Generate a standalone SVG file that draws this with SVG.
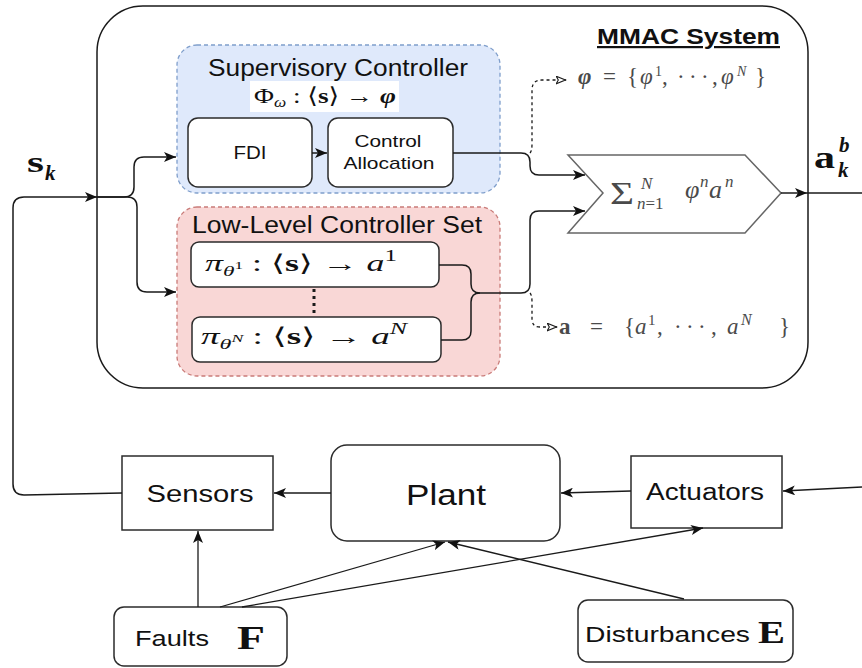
<svg xmlns="http://www.w3.org/2000/svg" width="862" height="668" viewBox="0 0 862 668">
<defs>
<style>
.ln{fill:none;stroke:#1a1a1a;stroke-width:1.5}
.lb{fill:none;stroke:#1a1a1a;stroke-width:1.3}
.dash{fill:none;stroke:#1a1a1a;stroke-width:1.3;stroke-dasharray:3,3}
.box{fill:#fff;stroke:#2b2b2b;stroke-width:1.5}
.sans{font-family:"Liberation Sans",Arial,sans-serif;fill:#111}
.m{font-family:"Liberation Serif","DejaVu Serif",serif;fill:#111}
.g{fill:#4a4a4a}
.it{font-style:italic}
.bd{font-weight:bold}
</style>
<marker id="arr" viewBox="0 0 12 10" refX="12" refY="5" markerWidth="12" markerHeight="10" markerUnits="userSpaceOnUse" orient="auto">
<path d="M0,0 L12,5 L0,10 L3,5 Z" fill="#111"/>
</marker>
<marker id="open" viewBox="0 0 11 9" refX="10.5" refY="4.5" markerWidth="11" markerHeight="9" markerUnits="userSpaceOnUse" orient="auto">
<path d="M0.7,0.7 L10,4.5 L0.7,8.3 L2.8,4.5 Z" fill="#fff" stroke="#1a1a1a" stroke-width="1.1"/>
</marker>
</defs>
<rect width="862" height="668" fill="#fff"/>

<!-- outer system frame -->
<g id="mmac-system">
<rect x="97" y="6" width="711" height="382" rx="46" fill="#fff" stroke="#1a1a1a" stroke-width="1.5"/>
<text class="sans bd" x="780" y="44" font-size="22" text-anchor="end" textLength="183" lengthAdjust="spacingAndGlyphs" text-decoration="underline">MMAC System</text>
</g>

<!-- supervisory layer -->
<g id="supervisory-controller">
<rect x="177" y="45" width="323" height="148" rx="20" fill="#dfe9fb" stroke="#7f9ecb" stroke-width="1.3" stroke-dasharray="4,3"/>
<text class="sans" x="338" y="76" font-size="23" text-anchor="middle" textLength="260" lengthAdjust="spacingAndGlyphs">Supervisory Controller</text>
<rect x="250" y="81" width="149" height="31" fill="#fff"/>
<text class="m" x="254" y="103" font-size="22" textLength="142" lengthAdjust="spacingAndGlyphs">Φ<tspan class="it" font-size="14" dy="4">ω</tspan><tspan dy="-4"> : ⟨</tspan><tspan class="bd">s</tspan>⟩ → <tspan class="bd it">φ</tspan></text>
</g>
<g id="fdi">
<rect class="box" x="188" y="118" width="124" height="69" rx="10"/>
<text class="sans" x="250" y="159" font-size="18" text-anchor="middle" textLength="33" lengthAdjust="spacingAndGlyphs">FDI</text>
</g>
<g id="control-allocation">
<rect class="box" x="328" y="118" width="125" height="69" rx="10"/>
<text class="sans" x="388" y="147" font-size="17" text-anchor="middle" textLength="67" lengthAdjust="spacingAndGlyphs">Control</text>
<text class="sans" x="389" y="169" font-size="17" text-anchor="middle" textLength="91" lengthAdjust="spacingAndGlyphs">Allocation</text>
</g>

<!-- low-level policies -->
<g id="low-level-controller-set">
<rect x="177" y="207" width="323" height="169" rx="20" fill="#f9d7d6" stroke="#c97b78" stroke-width="1.3" stroke-dasharray="4,3"/>
<text class="sans" x="337" y="233" font-size="23" text-anchor="middle" textLength="290" lengthAdjust="spacingAndGlyphs">Low-Level Controller Set</text>
<line x1="314" y1="289" x2="314" y2="316" stroke="#1a1a1a" stroke-width="3" stroke-dasharray="3,4"/>
</g>
<g id="policy-1">
<rect class="box" x="191" y="242" width="248" height="45" rx="8"/>
<text class="m" x="205" y="271" font-size="23" textLength="192" lengthAdjust="spacingAndGlyphs"><tspan class="it">π</tspan><tspan class="it" font-size="15" dy="5">θ</tspan><tspan font-size="11" dy="-7">1</tspan><tspan dy="2"> : ⟨</tspan><tspan class="bd">s</tspan>⟩ → <tspan class="it">a</tspan><tspan font-size="16" dy="-10">1</tspan></text>
</g>
<g id="policy-n">
<rect class="box" x="192" y="317" width="249" height="45" rx="8"/>
<text class="m" x="201" y="344" font-size="23" textLength="206" lengthAdjust="spacingAndGlyphs"><tspan class="it">π</tspan><tspan class="it" font-size="15" dy="5">θ</tspan><tspan class="it" font-size="11" dy="-7">N</tspan><tspan dy="2"> : ⟨</tspan><tspan class="bd">s</tspan>⟩ → <tspan class="it">a</tspan><tspan class="it" font-size="16" dy="-10">N</tspan></text>
</g>

<!-- weighted sum -->
<g id="weighted-sum">
<polygon points="568,155 745,155 781,193 745,233 568,233 603,193" fill="#fff" stroke="#666" stroke-width="1.5"/>
<text class="m g" x="610" y="204" font-size="32" textLength="24" lengthAdjust="spacingAndGlyphs">Σ</text>
<text class="m g it" x="641" y="189" font-size="17">N</text>
<text class="m g" x="637" y="209" font-size="17"><tspan class="it">n</tspan>=1</text>
<text class="m g it" x="685" y="198" font-size="26">φ</text>
<text class="m g it" x="700" y="187" font-size="17">n</text>
<text class="m g it" x="709" y="198" font-size="26">a</text>
<text class="m g it" x="725" y="187" font-size="17">n</text>
</g>

<!-- output sets -->
<g id="weights-label">
<text class="m g" y="84" font-size="23">
<tspan x="578" class="bd it">φ</tspan>
<tspan x="603">=</tspan>
<tspan x="627">{</tspan>
<tspan x="640" class="it">φ</tspan>
<tspan x="655" y="76" font-size="14">1</tspan>
<tspan x="662" y="84">,</tspan>
<tspan x="677">·</tspan><tspan x="689">·</tspan><tspan x="701">·</tspan>
<tspan x="712">,</tspan>
<tspan x="721" class="it">φ</tspan>
<tspan x="737" y="76" font-size="14" class="it">N</tspan>
<tspan x="755" y="84">}</tspan>
</text>
</g>
<g id="actions-label">
<text class="m g" y="334" font-size="23">
<tspan x="559" class="bd">a</tspan>
<tspan x="590">=</tspan>
<tspan x="624">{</tspan>
<tspan x="635" class="it">a</tspan>
<tspan x="648" y="325" font-size="15">1</tspan>
<tspan x="657" y="334">,</tspan>
<tspan x="674">·</tspan><tspan x="686">·</tspan><tspan x="698">·</tspan>
<tspan x="711">,</tspan>
<tspan x="727" class="it">a</tspan>
<tspan x="741" y="325" font-size="16" class="it">N</tspan>
<tspan x="779" y="334">}</tspan>
</text>
</g>
<g id="output-label">
<text class="m bd" x="814" y="168" font-size="32" textLength="21" lengthAdjust="spacingAndGlyphs">a</text>
<text class="m bd it" x="839" y="152" font-size="21">b</text>
<text class="m bd it" x="838" y="177" font-size="21">k</text>
</g>
<g id="state-label">
<text class="m bd" x="27" y="172" font-size="30" textLength="17" lengthAdjust="spacingAndGlyphs">s</text>
<text class="m bd it" x="45" y="180" font-size="21">k</text>
</g>

<!-- plant loop -->
<g id="sensors">
<rect class="box" x="122" y="456" width="151" height="74" rx="0"/>
<text class="sans" x="200" y="502" font-size="23" text-anchor="middle" textLength="107" lengthAdjust="spacingAndGlyphs">Sensors</text>
</g>
<g id="plant">
<rect class="box" x="331" y="445" width="229" height="96" rx="16"/>
<text class="sans" x="446" y="505" font-size="30" text-anchor="middle" textLength="80" lengthAdjust="spacingAndGlyphs">Plant</text>
</g>
<g id="actuators">
<rect class="box" x="631" y="456" width="151" height="72" rx="0"/>
<text class="sans" x="705" y="500" font-size="23" text-anchor="middle" textLength="118" lengthAdjust="spacingAndGlyphs">Actuators</text>
</g>
<g id="faults">
<rect class="box" x="114" y="607" width="173" height="59" rx="10"/>
<text class="sans" x="135" y="646" font-size="22" textLength="74" lengthAdjust="spacingAndGlyphs">Faults</text>
<text class="m bd" x="237" y="649" font-size="34" textLength="28" lengthAdjust="spacingAndGlyphs">F</text>
</g>
<g id="disturbances">
<rect class="box" x="578" y="600" width="215" height="62" rx="10"/>
<text class="sans" x="585" y="642" font-size="22" textLength="165" lengthAdjust="spacingAndGlyphs">Disturbances</text>
<text class="m bd" x="758" y="643" font-size="32" textLength="27" lengthAdjust="spacingAndGlyphs">E</text>
</g>

<!-- connectors -->
<g id="connectors">
<path class="ln" d="M122,493 L24,495 Q13,495 13,484 L13,208 Q13,197 24,197 L97,197" marker-end="url(#arr)"/>
<path class="ln" d="M97,197 L124,197 Q134,197 134,187 L134,167 Q134,157 144,157 L176,157" marker-end="url(#arr)"/>
<path class="ln" d="M97,197 L127,197 Q137,197 137,207 L137,282 Q137,292 147,292 L176,292" marker-end="url(#arr)"/>
<path class="ln" d="M312,153 L327,153" marker-end="url(#arr)"/>
<path class="ln" d="M453,153 L521,153 Q530,153 530,162 L530,166 Q530,175 539,175 L585,175" marker-end="url(#arr)"/>
<path class="dash" d="M530,153 Q532,151 532,144 L532,90 Q532,80 542,80 L566,80" marker-end="url(#open)"/>
<path class="ln" d="M439,265 L462,265 Q471,265 471,274 L471,284 Q471,293 480,293 L521,293 Q530,293 530,284 L530,220 Q530,211 539,211 L585,211" marker-end="url(#arr)"/>
<path class="ln" d="M441,340 L462,340 Q471,340 471,331 L471,302 Q471,293 480,293"/>
<path class="dash" d="M530,293 Q532,295 532,302 L532,319 Q532,327 540,327 L557,327" marker-end="url(#open)"/>
<path class="ln" d="M781,193 L807,193" marker-end="url(#arr)"/>
<path class="ln" d="M807,193 L862,193"/>
<path class="lb" d="M331,493 L274,493" marker-end="url(#arr)"/>
<path class="lb" d="M631,491 L561,493" marker-end="url(#arr)"/>
<path class="lb" d="M862,487 L783,491" marker-end="url(#arr)"/>
<path class="lb" d="M198,607 L198,531" marker-end="url(#arr)"/>
<path class="lb" d="M220,607 L445,542" marker-end="url(#arr)"/>
<path class="lb" d="M242,607 L703,528" marker-end="url(#arr)"/>
<path class="lb" d="M684,599 L448,542" marker-end="url(#arr)"/>
</g>
</svg>
